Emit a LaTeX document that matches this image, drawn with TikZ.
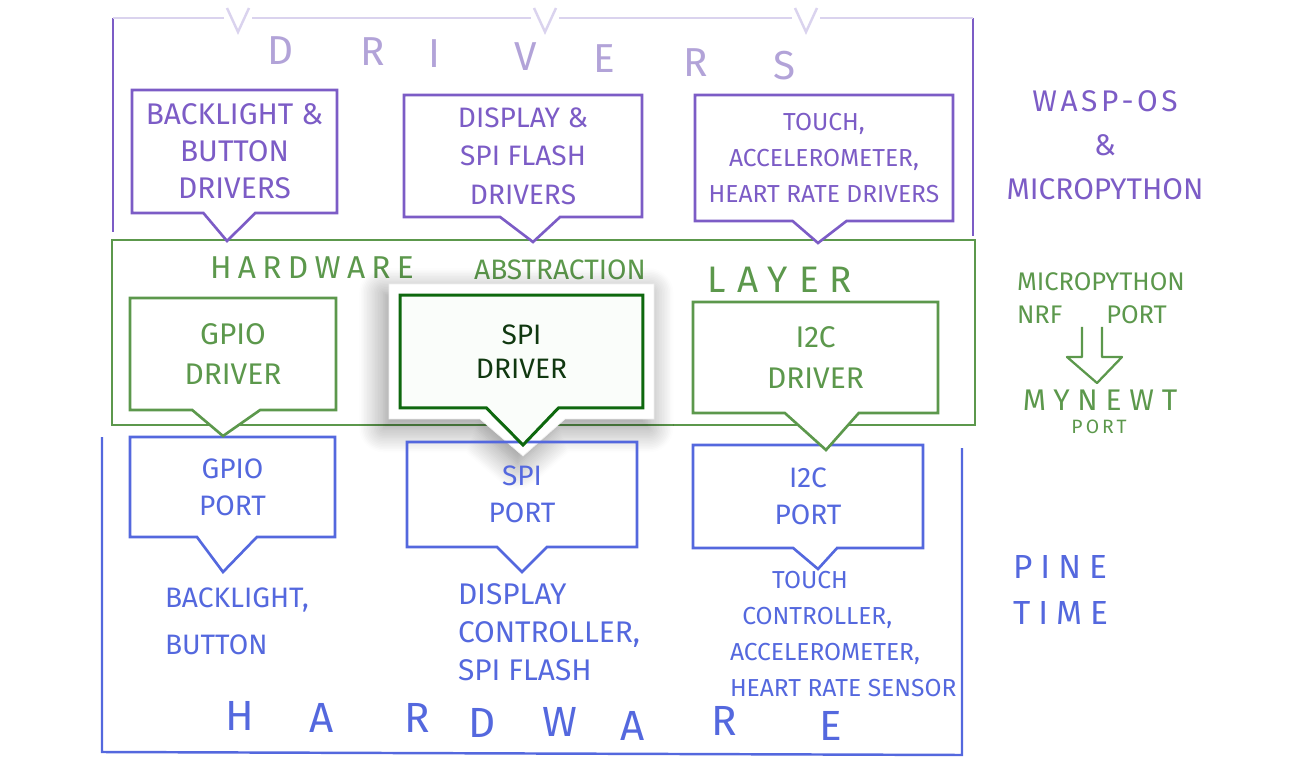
\documentclass[tikz,border=0pt]{standalone}
\usepackage{fontspec}
\setmainfont{Fira Sans}
\usetikzlibrary{shapes.callouts,shadows.blur}

\definecolor{drvpurple}{RGB}{124,92,198}
\definecolor{drvfaint}{RGB}{218,211,238}
\definecolor{drvtitle}{RGB}{178,163,216}
\definecolor{halgreen}{RGB}{92,152,76}
\definecolor{spigreen}{RGB}{14,104,14}
\definecolor{spitext}{RGB}{16,56,16}
\definecolor{hwblue}{RGB}{84,104,222}

\begin{document}
\begin{tikzpicture}[x=0.02cm, y=-0.02cm,
    every node/.style={inner sep=0pt, outer sep=0pt},
    bubble/.style={rectangle callout, fill=white, line width=1.5pt, align=center},
    drvbox/.style={bubble, draw=drvpurple, text=drvpurple},
    halbox/.style={bubble, draw=halgreen, text=halgreen, font=\fontsize{17}{23}\selectfont},
    portbox/.style={bubble, fill=none, draw=hwblue, text=hwblue, font=\fontsize{16}{21}\selectfont},
    layer/.style={line width=1.4pt}]
  \useasboundingbox (0,0) rectangle (1314,776);

  % the three layers
  \draw [layer, hwblue] (102,437) -- (102,752) -- (962,755) -- (962,448);
  \draw [layer, halgreen] (112,240) rectangle (975,425);
  \draw [layer, drvpurple] (113,232) -- (113,18);
  \draw [layer, drvpurple] (973,18) -- (973,236);
  \draw [layer, drvfaint] (113,18) -- (224,18) (252,18) -- (531,18)
        (559,18) -- (792,18) (820,18) -- (973,18);
  \foreach \nx in {238,545,806}
    \draw [layer, drvfaint] (\nx-11,8) -- (\nx,32) -- (\nx+11,8);

  \foreach \ch/\px/\py [count=\i] in {D/281/51,R/373/52,I/434/54,V/526/57,E/604/59,R/696/63,S/784/66}
    \node [text=drvtitle, font=\fontsize{23}{23}\selectfont] (drvl\i) at (\px,\py) {\ch};
  \node [text=halgreen, font=\fontsize{18}{18}\selectfont\addfontfeatures{LetterSpace=20}] (halhw) at (312,268) {HARDWARE};
  \node [text=halgreen, font=\fontsize{16}{16}\selectfont] (halabs) at (560,270) {ABSTRACTION};
  \node [text=halgreen, font=\fontsize{21}{21}\selectfont\addfontfeatures{LetterSpace=30}] (hallayer) at (780,280) {LAYER};
  \foreach \ch/\px/\py [count=\i] in {H/240/716,A/322/718,R/417/718,D/482/723,W/560/722,A/633/726,R/724/721,E/831/726}
    \node [text=hwblue, font=\fontsize{24}{24}\selectfont] (hwl\i) at (\px,\py) {\ch};

  % paper cut-out under the SPI driver
  \node [rectangle callout, fill=white, draw=black!6, minimum width=5.3cm, minimum height=2.7cm,
         callout absolute pointer={(523,456)}, callout pointer width=1.7cm,
         blur shadow={shadow xshift=-3pt, shadow yshift=-5pt, shadow blur radius=14pt,
                      shadow blur steps=16, shadow opacity=45}] (spicut) at (521.5,351.5) {};

  % ports
  \node [portbox, minimum width=4.1cm, minimum height=2.0cm, callout absolute pointer={(223,572)},
         callout pointer width=1.2cm] (gpiop) at (232.5,487) {GPIO\\PORT};
  \node [portbox, minimum width=4.6cm, minimum height=2.1cm, callout absolute pointer={(522,572)},
         callout pointer width=1.0cm] (spip) at (522,494.5) {SPI\\PORT};
  \node [portbox, minimum width=4.6cm, minimum height=2.06cm, callout absolute pointer={(818,569)},
         callout pointer width=0.88cm] (i2cp) at (808,496.5) {I2C\\PORT};

  % drivers of the abstraction layer
  \node [halbox, minimum width=4.12cm, minimum height=2.24cm, callout absolute pointer={(223,436)},
         callout pointer width=1.36cm] (gpiod) at (233,354) {GPIO\\DRIVER};
  \node [halbox, minimum width=4.9cm, minimum height=2.22cm, callout absolute pointer={(826,450)},
         callout pointer width=1.48cm] (i2cd) at (815.5,357.5) {I2C\\DRIVER};
  \node [bubble, draw=spigreen, fill={rgb,255:red,250;green,253;blue,250}, text=spitext, line width=1.7pt,
         font=\fontsize{16}{19}\selectfont, minimum width=4.86cm, minimum height=2.26cm,
         callout absolute pointer={(523,445)}, callout pointer width=1.44cm] (spid) at (521.5,351.5) {SPI\\DRIVER};

  % top row
  \node [drvbox, font=\fontsize{17}{21}\selectfont, minimum width=4.1cm, minimum height=2.46cm,
         callout absolute pointer={(227,241)}, callout pointer width=1.04cm] (bldrv) at (234.5,151.5)
         {BACKLIGHT \&\\BUTTON\\DRIVERS};
  \node [drvbox, font=\fontsize{16}{22}\selectfont, minimum width=4.76cm, minimum height=2.44cm,
         callout absolute pointer={(533,242)}, callout pointer width=1.2cm] (dspdrv) at (523,156)
         {DISPLAY \&\\SPI FLASH\\DRIVERS};
  \node [drvbox, font=\fontsize{14}{20.5}\selectfont, minimum width=5.16cm, minimum height=2.52cm,
         callout absolute pointer={(818,243)}, callout pointer width=1.08cm] (tchdrv) at (824,158)
         {TOUCH,\\ACCELEROMETER,\\HEART RATE DRIVERS};

  % hardware
  \node [anchor=west, align=left, text=hwblue, font=\fontsize{16}{26.6}\selectfont] (lblbl) at (165,621)
        {BACKLIGHT,\\BUTTON};
  \node [anchor=west, align=left, text=hwblue, font=\fontsize{17}{21.5}\selectfont] (lbldsp) at (458,632)
        {DISPLAY\\CONTROLLER,\\SPI FLASH};
  \node [anchor=west, align=left, text=hwblue, font=\fontsize{14}{20.4}\selectfont] (lbltch) at (730,634)
        {\hspace*{24pt}TOUCH\\\hspace*{7pt}CONTROLLER,\\ACCELEROMETER,\\HEART RATE SENSOR};

  % software stack on the right
  \node [align=center, text=drvpurple, font=\fontsize{17}{25}\selectfont] (swstack) at (1105,145)
        {{\addfontfeatures{LetterSpace=12}WASP-OS}\\\&\\MICROPYTHON};
  \node [anchor=west, align=left, text=halgreen, font=\fontsize{14.5}{19}\selectfont] (halport) at (1017,298)
        {MICROPYTHON\\NRF\hspace{25pt}PORT};
  \coordinate (nrfarrow) at (1092,327);
  \draw [halgreen, line width=1.3pt, line join=round] (nrfarrow) ++(-10,0) -- ++(0,30) -- ++(-15,0)
        -- ++(30,26) -- ++(25,-26) -- ++(-20,0) -- ++(0,-30);
  \node [text=halgreen, font=\fontsize{17}{17}\selectfont\addfontfeatures{LetterSpace=26}] (mynewt) at (1100,400) {MYNEWT};
  \node [text=halgreen, font=\fontsize{11}{11}\selectfont\addfontfeatures{LetterSpace=16}] (mynewtport) at (1099,427) {PORT};
  \node [anchor=west, align=left, text=hwblue, font=\fontsize{19}{26}\selectfont\addfontfeatures{LetterSpace=24}]
        (pinetime) at (1013,590) {PINE\\TIME};
\end{tikzpicture}
\end{document}
